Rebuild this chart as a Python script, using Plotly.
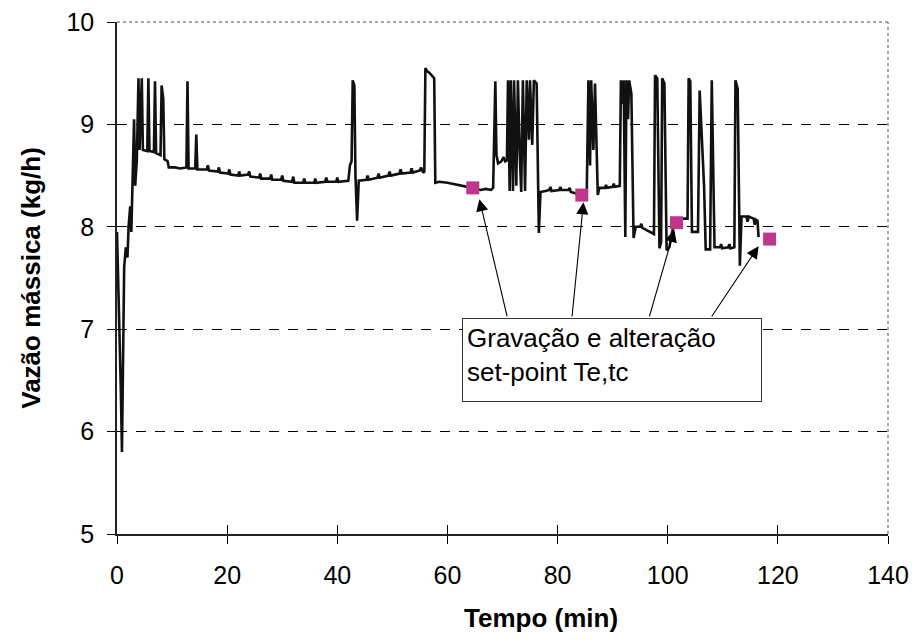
import plotly.graph_objects as go

# ---- data ----
tempo = [
    0.0, 0.4, 0.7, 0.9, 1.1, 1.3, 1.6, 1.9, 2.1, 2.4, 2.6, 2.8, 3.1, 3.3, 3.6, 3.9, 4.1, 4.5, 4.7,
    5.5, 5.7, 5.9, 6.7, 6.9, 7.1, 7.9, 8.1, 8.4, 8.6, 9.2, 9.4, 10.5, 11.5, 12.6, 12.8, 13.0,
    14.2, 14.4, 14.6, 15.5, 16.3, 16.5, 16.7, 18.3, 18.5, 18.7, 20.2, 20.4, 20.6, 22.0, 22.2,
    22.4, 23.8, 24.0, 24.2, 25.8, 26.0, 26.2, 27.8, 28.0, 28.2, 29.8, 30.0, 30.2, 31.8, 32.0,
    32.2, 33.8, 34.0, 34.2, 35.8, 36.0, 36.2, 37.8, 38.0, 38.2, 39.8, 40.0, 40.2, 42.0, 42.3,
    42.6, 42.8, 43.1, 43.3, 43.6, 43.9, 45.3, 45.5, 45.7, 47.3, 47.5, 47.7, 49.3, 49.5, 49.7,
    51.3, 51.5, 51.7, 53.3, 53.5, 53.7, 55.0, 55.2, 55.5, 55.8, 56.0, 56.3, 56.8, 57.3, 57.6,
    57.8, 58.5, 60.0, 62.0, 64.5, 66.0, 67.0, 67.9, 68.3, 68.7, 68.9, 69.2, 69.8, 70.2, 70.5,
    70.8, 71.0, 71.3, 71.5, 71.9, 72.1, 72.5, 72.8, 73.1, 73.4, 73.7, 74.1, 74.4, 74.8, 75.0,
    75.4, 75.7, 76.2, 76.6, 76.9, 77.8, 78.5, 78.7, 78.9, 80.3, 80.5, 80.7, 82.0, 82.2, 82.4,
    84.4, 85.3, 85.6, 85.9, 86.1, 86.5, 86.8, 87.3, 87.6, 88.6, 88.8, 89.0, 90.0, 90.2, 90.4,
    91.3, 91.5, 91.8, 92.0, 92.3, 92.5, 92.8, 93.0, 93.4, 93.8, 94.2, 95.0, 95.2, 95.4, 96.5,
    97.5, 97.7, 98.1, 98.5, 98.8, 99.0, 99.4, 99.8, 100.3, 100.8, 101.3, 102.0, 103.6, 103.8,
    104.1, 104.4, 105.5, 105.8, 106.6, 106.9, 107.7, 108.0, 108.5, 109.5, 109.7, 109.9, 111.0,
    111.2, 111.4, 112.1, 112.3, 112.7, 113.1, 113.4, 114.3, 114.5, 114.7, 115.6, 115.8, 116.0,
    116.3, 116.5,
]
vazao = [
    7.95, 7.2, 6.4, 5.8, 6.6, 7.6, 7.8, 7.7, 8.0, 8.2, 7.95, 8.5, 9.05, 8.4, 8.65, 9.45, 8.75, 9.45, 8.75,
    8.74, 9.45, 8.74, 8.73, 9.42, 8.72, 8.7, 9.38, 9.25, 8.66, 8.64, 8.58, 8.58, 8.57, 8.58, 9.42, 8.57,
    8.57, 8.9, 8.56, 8.56, 8.56, 8.6, 8.55, 8.54, 8.58, 8.53, 8.52, 8.56, 8.51, 8.5, 8.54,
    8.5, 8.51, 8.54, 8.49, 8.48, 8.52, 8.47, 8.47, 8.51, 8.46, 8.46, 8.5, 8.45, 8.44, 8.49,
    8.43, 8.43, 8.47, 8.43, 8.43, 8.47, 8.43, 8.44, 8.48, 8.44, 8.44, 8.48, 8.44, 8.45, 8.6,
    8.64, 9.43, 9.38, 8.5, 8.06, 8.45, 8.46, 8.5, 8.46, 8.48, 8.52, 8.48, 8.5, 8.54, 8.5,
    8.52, 8.56, 8.52, 8.53, 8.57, 8.53, 8.55, 8.58, 8.54, 8.53, 9.55, 9.52, 9.5, 9.47, 9.45,
    8.43, 8.44, 8.43, 8.41, 8.38, 8.36, 8.37, 8.36, 8.38, 9.42, 8.7, 8.62, 8.64, 8.68, 8.64,
    8.65, 9.43, 8.35, 9.43, 8.35, 9.43, 8.4, 9.43, 8.75, 8.34, 9.43, 8.35, 9.43, 8.85, 9.43,
    8.8, 9.43, 9.4, 7.94, 8.34, 8.35, 8.36, 8.39, 8.35, 8.36, 8.39, 8.36, 8.36, 8.38, 8.34,
    8.31, 8.33, 9.43, 8.6, 9.43, 8.75, 9.4, 8.31, 8.38, 8.38, 8.41, 8.38, 8.39, 8.42, 8.39,
    8.4, 9.43, 9.2, 9.43, 7.9, 9.43, 9.05, 9.43, 9.3, 7.89, 8.0, 8.0, 8.03, 7.99, 7.96,
    7.93, 9.48, 9.45, 7.79, 7.85, 9.45, 9.4, 7.77, 7.8, 7.95, 8.05, 8.08, 8.08, 9.45,
    9.42, 7.95, 7.95, 9.33, 8.4, 7.78, 7.78, 9.43, 7.8, 7.8, 7.83, 7.79, 7.8,
    7.83, 7.79, 7.8, 9.43, 9.35, 7.62, 8.1, 8.1, 8.05, 8.1, 8.08, 8.02, 8.07,
    8.06, 7.9,
]

gravacao_t = [64.6, 84.4, 101.6, 118.5]
gravacao_v = [8.38, 8.31, 8.04, 7.88]

# arrow tails (box top) and tips (near the recorded points)
seta_tail_t = [70.9, 82.6, 96.6, 107.8]
seta_tail_v = [7.11, 7.11, 7.11, 7.11]
seta_tip_t = [65.8, 84.7, 101.2, 116.5]
seta_tip_v = [8.27, 8.24, 7.97, 7.81]

x_ticks = [0, 20, 40, 60, 80, 100, 120, 140]
y_ticks = [5, 6, 7, 8, 9, 10]
grid_vals = [6, 7, 8, 9]

caixa_texto = "Gravação e alteração<br>set-point Te,tc"
titulo_x = "Tempo (min)"
titulo_y = "Vazão mássica (kg/h)"

FONT = "Liberation Sans, Arial, sans-serif"

fig = go.Figure()

fig.add_trace(go.Scatter(
    x=tempo, y=vazao, mode="lines",
    line=dict(color="#111111", width=2.6),
    hoverinfo="skip", showlegend=False,
))

fig.add_trace(go.Scatter(
    x=gravacao_t, y=gravacao_v, mode="markers",
    marker=dict(symbol="square", size=13, color="#BE378D"),
    xaxis="x2", yaxis="y2",
    hoverinfo="skip", showlegend=False,
))

for tt, tv, ht, hv in zip(seta_tail_t, seta_tail_v, seta_tip_t, seta_tip_v):
    fig.add_annotation(
        x=ht, y=hv, ax=tt, ay=tv, xref="x", yref="y", axref="x", ayref="y",
        text="", showarrow=True, arrowhead=2, arrowsize=2.2, arrowwidth=1.1,
        arrowcolor="#000000", standoff=0,
    )

fig.add_annotation(
    x=62.7, y=7.11, xref="x", yref="y", xanchor="left", yanchor="top",
    text=caixa_texto, showarrow=False, align="left", valign="top",
    width=290, height=74, borderpad=4,
    bgcolor="white", bordercolor="#333333", borderwidth=1,
    font=dict(family=FONT, size=26, color="black"),
)

# x-axis title (sits right of centre in the original)
fig.add_annotation(
    x=0.55, y=-0.164, xref="paper", yref="paper", xanchor="center", yanchor="middle",
    text="<b>" + titulo_x + "</b>", showarrow=False,
    font=dict(family=FONT, size=26, color="black"),
)

# plot-area border (top/right dotted grey)
fig.add_shape(type="line", xref="paper", yref="paper", x0=0, x1=1, y0=1, y1=1,
              line=dict(color="#8a8a8a", width=1.5, dash="dot"), layer="below")
fig.add_shape(type="line", xref="paper", yref="paper", x0=1, x1=1, y0=0, y1=1,
              line=dict(color="#8a8a8a", width=1.5, dash="dot"), layer="below")

fig.update_layout(
    width=912, height=640,
    margin=dict(l=117, r=24, t=22, b=106, autoexpand=False),
    paper_bgcolor="white", plot_bgcolor="white",
    font=dict(family=FONT, color="black"),
    xaxis=dict(
        range=[0, 140], tickvals=x_ticks, ticks="outside", ticklen=8, tickwidth=1.2,
        tickcolor="black", showline=True, linecolor="#222222", linewidth=1.5,
        showgrid=False, zeroline=False, tickfont=dict(size=25), ticklabelstandoff=10,
        ticklabeloverflow="allow",
    ),
    yaxis=dict(
        range=[5, 10], tickvals=y_ticks, ticks="outside", ticklen=8, tickwidth=1.2,
        tickcolor="black", showline=True, linecolor="#222222", linewidth=1.5,
        showgrid=False, zeroline=False, tickfont=dict(size=25), ticklabelstandoff=8,
        ticklabeloverflow="allow",
        title=dict(text="<b>" + titulo_y + "</b>", font=dict(size=26), standoff=18),
    ),
    xaxis2=dict(
        overlaying="x", matches="x", range=[0, 140], tickvals=x_ticks[1:],
        ticks="inside", ticklen=9, tickwidth=1.2, tickcolor="black",
        showticklabels=False, showgrid=False, zeroline=False, showline=False,
    ),
    yaxis2=dict(
        overlaying="y", matches="y", range=[5, 10], tickvals=grid_vals,
        ticks="inside", ticklen=8, tickwidth=1.2, tickcolor="black",
        showticklabels=False, showgrid=True, gridcolor="black", gridwidth=1.1,
        griddash="10px,9px", zeroline=False, showline=False,
    ),
    hovermode=False,
)

fig.write_html("out.html", config={"displayModeBar": False})
